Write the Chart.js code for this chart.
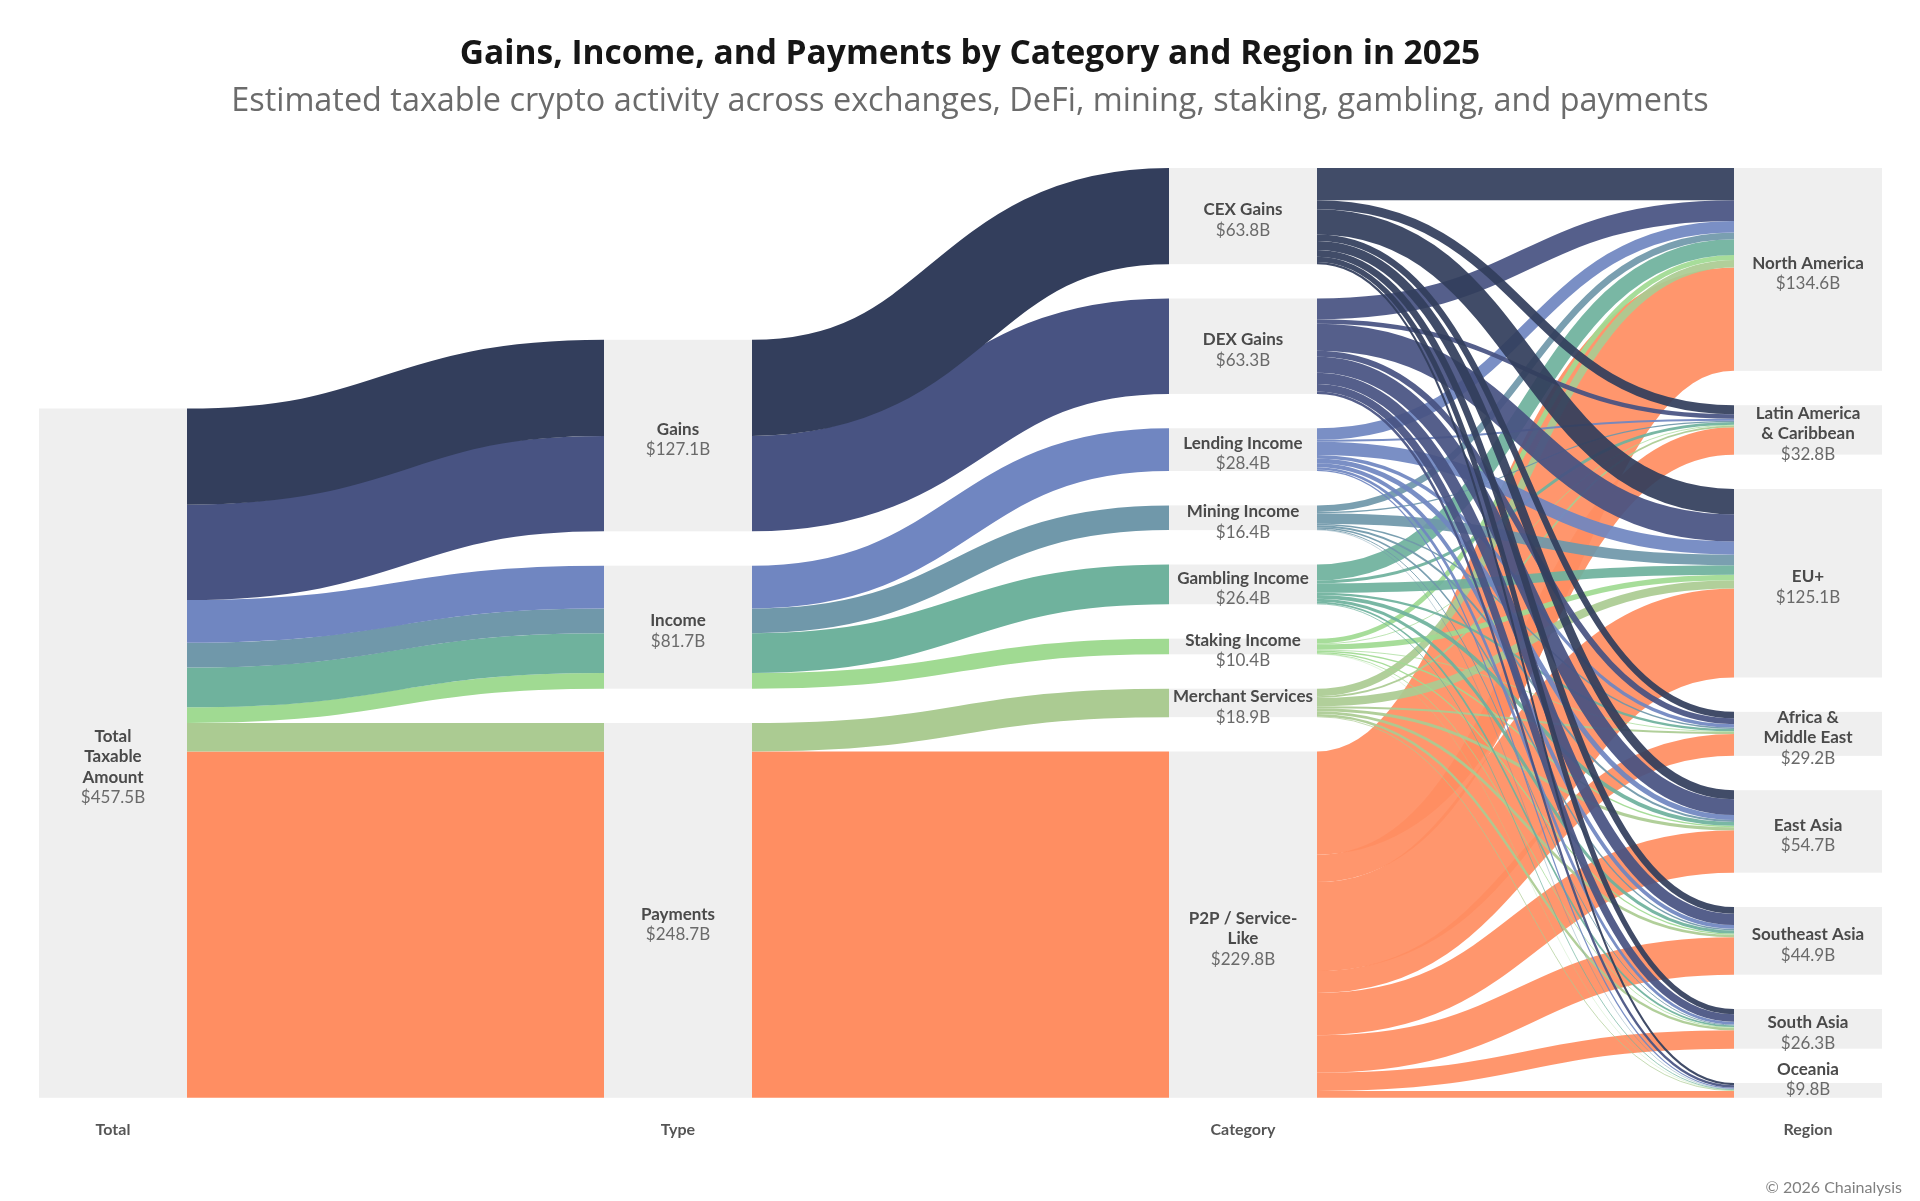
<!DOCTYPE html>
<html>
<head>
<meta charset="utf-8">
<script src="https://cdn.jsdelivr.net/npm/chart.js@4.4.1/dist/chart.umd.min.js"></script>
<style>
  html, body { margin: 0; padding: 0; background: #ffffff; }
  #wrap { width: 1920px; height: 1201px; position: relative; }
  canvas { display: block; }
</style>
</head>
<body>
<div id="wrap"><canvas id="chart" width="1920" height="1201"></canvas></div>
<script>
// ---------------- DATA ----------------
const TITLE = 'Gains, Income, and Payments by Category and Region in 2025';
const SUBTITLE = 'Estimated taxable crypto activity across exchanges, DeFi, mining, staking, gambling, and payments';
const CREDIT = '\u00A9 2026 Chainalysis';

const COLUMNS = ['Total', 'Type', 'Category', 'Region'];

const TOTAL_NAME = 'Total\nTaxable\nAmount';
const TOTAL_VALUE = 457.5;

const TYPES = ['Gains', 'Income', 'Payments'];
const TYPE_VALUES = [127.1, 81.7, 248.7];

const CATEGORIES = ['CEX Gains', 'DEX Gains', 'Lending Income', 'Mining Income',
  'Gambling Income', 'Staking Income', 'Merchant Services', 'P2P / Service-\nLike'];
const CATEGORY_VALUES = [63.8, 63.3, 28.4, 16.4, 26.4, 10.4, 18.9, 229.8];
const CATEGORY_TYPE = [0, 0, 1, 1, 1, 1, 2, 2]; // index into TYPES

const REGIONS = ['North America', 'Latin America\n& Caribbean', 'EU+', 'Africa &\nMiddle East',
  'East Asia', 'Southeast Asia', 'South Asia', 'Oceania'];
const REGION_VALUES = [134.6, 32.8, 125.1, 29.2, 54.7, 44.9, 26.3, 9.8];

// Flows from each category to regions (same order as REGIONS), $B
const CEX_TO_REGION      = [21.4, 6.0, 16.8, 4.2, 6.0, 4.5, 3.5, 1.4];
const DEX_TO_REGION      = [13.7, 3.0, 18.0, 4.0, 10.5, 7.5, 5.0, 1.6];
const LENDING_TO_REGION  = [7.7, 1.3, 8.8, 2.2, 3.3, 2.5, 1.8, 0.8];
const MINING_TO_REGION   = [4.4, 0.8, 7.0, 1.0, 1.3, 1.0, 0.6, 0.3];
const GAMBLING_TO_REGION = [10.6, 1.9, 6.3, 1.5, 2.5, 2.0, 1.1, 0.5];
const STAKING_TO_REGION  = [3.3, 0.5, 3.6, 0.5, 1.0, 0.8, 0.5, 0.2];
const MERCHANT_TO_REGION = [5.0, 1.2, 5.5, 1.3, 2.0, 1.8, 1.6, 0.5];
const P2P_TO_REGION      = [68.5, 18.1, 59.1, 14.5, 28.1, 24.8, 12.2, 4.5];

const FLOWS = [CEX_TO_REGION, DEX_TO_REGION, LENDING_TO_REGION, MINING_TO_REGION,
  GAMBLING_TO_REGION, STAKING_TO_REGION, MERCHANT_TO_REGION, P2P_TO_REGION];

// ---------------- STYLE / LAYOUT ----------------
const CATEGORY_COLORS = ['#333e5c', '#485382', '#7086c1', '#7098aa', '#6fb29d', '#a0da92', '#abcb92', '#ff8e62'];
const NODE_COLOR = '#efefef';
const FONT = 'Lato, "Open Sans", "Noto Sans", sans-serif';
const TITLE_FONT = '"Open Sans", Lato, sans-serif';
const NODE_W = 148;      // px
const GAP = 22.8;        // gap between nodes, in value units ($B)
const LINE_H = 20.5;

const sum = a => a.reduce((s, v) => s + v, 0);
const fmt = v => '$' + v.toFixed(1) + 'B';

function buildModel() {
  const cols = [[], [], [], []];
  const links = [];
  const add = (col, name, value) => { const n = { col, name, value, out: [], inn: [] }; cols[col].push(n); return n; };
  const link = (s, t, v, color, cat) => { const l = { s, t, v, color, cat }; s.out.push(l); t.inn.push(l); links.push(l); };

  const total = add(0, TOTAL_NAME, TOTAL_VALUE);
  const types = TYPES.map((t, i) => add(1, t, TYPE_VALUES[i]));
  const cats = CATEGORIES.map((c, i) => add(2, c, CATEGORY_VALUES[i]));
  const regs = REGIONS.map((r, i) => add(3, r, REGION_VALUES[i]));

  CATEGORIES.forEach((c, i) => {
    const v = sum(FLOWS[i]);
    link(total, types[CATEGORY_TYPE[i]], v, CATEGORY_COLORS[i], i);
    link(types[CATEGORY_TYPE[i]], cats[i], v, CATEGORY_COLORS[i], i);
  });
  CATEGORIES.forEach((c, i) => FLOWS[i].forEach((v, r) => link(cats[i], regs[r], v, CATEGORY_COLORS[i], i)));

  cols.forEach(col => col.forEach(n => { n.h = Math.max(sum(n.out.map(l => l.v)), sum(n.inn.map(l => l.v))); }));
  // bottom-aligned columns
  cols.forEach(col => {
    let y = 0;
    for (let k = col.length - 1; k >= 0; k--) {
      col[k].y0 = y; col[k].y1 = y + col[k].h; y = col[k].y1 + GAP;
    }
  });
  cols.forEach(col => col.forEach(n => {
    let top = n.y1;
    n.out.forEach(l => { l.sTop = top; l.sBot = top - l.v; top -= l.v; });
    top = n.y1;
    n.inn.forEach(l => { l.tTop = top; l.tBot = top - l.v; top -= l.v; });
  }));
  return { cols, links };
}

const MODEL = buildModel();
const Y_MAX = Math.max(...MODEL.cols.map(col => col.length ? col[0].y1 : 0));

const sankeyPlugin = {
  id: 'sankeyDraw',
  beforeDatasetsDraw(chart) {
    const { ctx, scales: { x, y } } = chart;
    ctx.save();
    // nodes
    MODEL.cols.forEach(col => col.forEach(n => {
      const xc = x.getPixelForValue(n.col);
      const top = y.getPixelForValue(n.y1), bot = y.getPixelForValue(n.y0);
      ctx.fillStyle = NODE_COLOR;
      ctx.fillRect(xc - NODE_W / 2, top, NODE_W, bot - top);
    }));
    // links: first two stages, then category->region in reverse category order
    const ordered = MODEL.links.slice().sort((a, b) => {
      const sa = a.s.col === 2 ? 1 : 0, sb = b.s.col === 2 ? 1 : 0;
      if (sa !== sb) return sa - sb;
      return b.cat - a.cat;
    });
    ordered.forEach(l => {
      if (l.v <= 0) return;
      const x0 = x.getPixelForValue(l.s.col) + NODE_W / 2;
      const x1 = x.getPixelForValue(l.t.col) - NODE_W / 2;
      const ys = y.getPixelForValue((l.sTop + l.sBot) / 2);
      const yt = y.getPixelForValue((l.tTop + l.tBot) / 2);
      const w = Math.abs(y.getPixelForValue(0) - y.getPixelForValue(l.v));
      const xm = (x0 + x1) / 2;
      ctx.beginPath();
      ctx.moveTo(x0, ys);
      ctx.bezierCurveTo(xm, ys, xm, yt, x1, yt);
      ctx.strokeStyle = l.color;
      ctx.globalAlpha = l.s.col === 2 ? 0.93 : 1;
      ctx.lineWidth = w;
      ctx.lineCap = 'butt';
      ctx.stroke();
    });
    ctx.globalAlpha = 1;
    ctx.restore();
  },
  afterDatasetsDraw(chart) {
    const { ctx, scales: { x, y }, chartArea } = chart;
    ctx.save();
    ctx.textAlign = 'center';
    ctx.textBaseline = 'middle';
    MODEL.cols.forEach(col => col.forEach(n => {
      const xc = x.getPixelForValue(n.col);
      const top = y.getPixelForValue(n.y1), bot = y.getPixelForValue(n.y0);
      const names = n.name.split('\n');
      const lines = names.length + 1;
      const blockH = lines * LINE_H;
      let cy = (top + bot) / 2 + 4 + ((bot - top) > 300 ? 10 : 0);
      if (cy + blockH / 2 > chartArea.bottom + 2) cy = chartArea.bottom + 2 - blockH / 2;
      const y0 = cy - blockH / 2 + LINE_H / 2;
      names.forEach((s, k) => {
        ctx.font = 'bold 17px ' + FONT;
        ctx.fillStyle = '#4a4a4a';
        ctx.fillText(s, xc, y0 + k * LINE_H);
      });
      ctx.font = '17px ' + FONT;
      ctx.fillStyle = '#6a6a6a';
      ctx.fillText(fmt(n.value), xc, y0 + names.length * LINE_H);
    }));
    ctx.restore();
  },
  afterDraw(chart) {
    const { ctx } = chart;
    ctx.save();
    ctx.textAlign = 'center';
    ctx.textBaseline = 'middle';
    ctx.fillStyle = '#161616';
    ctx.font = 'bold 33.5px ' + TITLE_FONT;
    ctx.fillText(TITLE, 970, 54);
    ctx.fillStyle = '#6b6b6b';
    ctx.font = '32.4px ' + TITLE_FONT;
    ctx.fillText(SUBTITLE, 970, 102);
    ctx.textAlign = 'right';
    ctx.fillStyle = '#808080';
    ctx.font = '16px ' + FONT;
    ctx.fillText(CREDIT, 1902, 1188);
    ctx.restore();
  }
};

new Chart(document.getElementById('chart').getContext('2d'), {
  type: 'line',
  data: { labels: COLUMNS, datasets: [] },
  options: {
    responsive: false,
    animation: false,
    devicePixelRatio: 1,
    layout: { padding: { left: 113, right: 112, top: 168, bottom: 40 } },
    plugins: { legend: { display: false }, tooltip: { enabled: false }, title: { display: false } },
    scales: {
      x: {
        type: 'category', offset: false,
        grid: { display: false, drawTicks: false }, border: { display: false },
        ticks: { padding: 22, autoSkip: false, maxRotation: 0, color: '#555555',
          font: { family: FONT, size: 16, weight: 'bold' } }
      },
      y: { display: false, min: 0, max: Y_MAX }
    }
  },
  plugins: [sankeyPlugin]
});
</script>
</body>
</html>
